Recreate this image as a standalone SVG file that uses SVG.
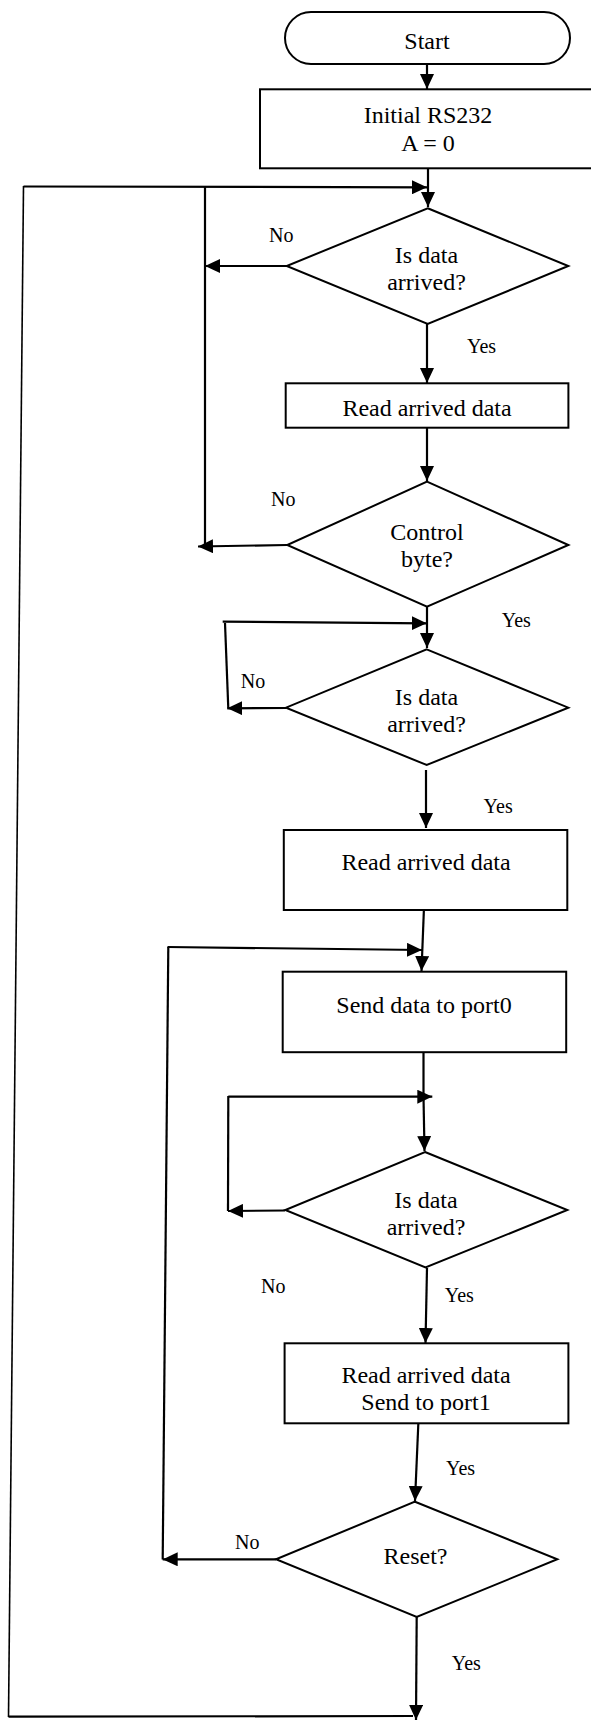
<svg xmlns="http://www.w3.org/2000/svg" width="591" height="1722" viewBox="0 0 591 1722">
<style>
.shape{fill:#fff;stroke:#000;stroke-width:2}
.t{font-family:"Liberation Serif","Times New Roman",serif;font-size:24px;fill:#000;text-anchor:middle}
.lbl{font-family:"Liberation Serif","Times New Roman",serif;font-size:20px;fill:#000}
.c{fill:none;stroke:#000;stroke-width:2.2}
.ca{fill:none;stroke:#000;stroke-width:2.2;marker-end:url(#ah)}
.thin{fill:none;stroke:#000;stroke-width:1.6}
</style>
<defs>
<marker id="ah" markerUnits="userSpaceOnUse" markerWidth="15" markerHeight="14" refX="15" refY="7" orient="auto">
<path d="M0,0 L15,7 L0,14 z" fill="#000"/>
</marker>
</defs>
<rect width="591" height="1722" fill="#fff"/>
<g id="connectors">
<line class="ca" x1="427" y1="64" x2="427" y2="89"/>
<line class="ca" x1="428" y1="168" x2="428" y2="207"/>
<line class="ca" x1="23.5" y1="186.5" x2="427" y2="187.3"/>
<line class="thin" x1="23.5" y1="186" x2="8.5" y2="1717"/>
<line class="c" x1="205" y1="186.5" x2="205" y2="545.5"/>
<line class="ca" x1="287" y1="266" x2="205" y2="266"/>
<line class="ca" x1="427" y1="324" x2="427" y2="383"/>
<line class="ca" x1="427" y1="428" x2="427" y2="481"/>
<line class="ca" x1="287" y1="545" x2="198" y2="546.5"/>
<line class="ca" x1="427" y1="607" x2="427" y2="648"/>
<line class="ca" x1="222.7" y1="621.7" x2="426.7" y2="623.3"/>
<line class="c" x1="225" y1="623" x2="228.3" y2="708.5"/>
<line class="ca" x1="286" y1="708" x2="227.3" y2="708.3"/>
<line class="ca" x1="426" y1="770" x2="426" y2="828"/>
<line class="ca" x1="424" y1="907" x2="421.5" y2="971"/>
<line class="ca" x1="167.5" y1="947" x2="422" y2="950"/>
<line class="c" x1="168.3" y1="947" x2="162.7" y2="1559.5"/>
<line class="c" x1="423.5" y1="1052" x2="423.5" y2="1096.7"/>
<line class="ca" x1="423.5" y1="1096.7" x2="424.5" y2="1151"/>
<line class="ca" x1="228.3" y1="1096.7" x2="432.3" y2="1096.7"/>
<line class="c" x1="228.3" y1="1096" x2="228" y2="1211"/>
<line class="ca" x1="285" y1="1210.5" x2="228" y2="1211"/>
<line class="ca" x1="427" y1="1268" x2="425.5" y2="1343"/>
<line class="ca" x1="418.4" y1="1422" x2="415" y2="1501"/>
<line class="ca" x1="276" y1="1559.3" x2="162.7" y2="1559.3"/>
<line class="c" x1="8.5" y1="1716.7" x2="413" y2="1716"/>
<line class="ca" x1="416.7" y1="1617" x2="416" y2="1720"/>
</g>
<g id="start">
<rect class="shape" x="285" y="12" width="285" height="52" rx="26" ry="26"/>
<text class="t" x="427" y="49">Start</text>
</g>
<g id="init">
<rect class="shape" x="260" y="89.3" width="334" height="79"/>
<text class="t" x="428" y="123">Initial RS232</text>
<text class="t" x="428" y="150.5">A = 0</text>
</g>
<g id="dec1">
<polygon class="shape" points="427.7,208.3 568.3,266 427.7,324 286.7,266"/>
<text class="t" x="426.5" y="263.3">Is data</text>
<text class="t" x="426.5" y="290">arrived?</text>
</g>
<g id="read1">
<rect class="shape" x="285.7" y="383.3" width="282.7" height="44.4"/>
<text class="t" x="427" y="416">Read arrived data</text>
</g>
<g id="dec2">
<polygon class="shape" points="427,481.7 568.4,545 427,606.7 287.2,545"/>
<text class="t" x="427" y="540">Control</text>
<text class="t" x="427" y="567.3">byte?</text>
</g>
<g id="dec3">
<polygon class="shape" points="426.7,649.3 568.3,707.7 426.7,765 286,707.7"/>
<text class="t" x="426.5" y="705">Is data</text>
<text class="t" x="426.5" y="731.5">arrived?</text>
</g>
<g id="read2">
<rect class="shape" x="283.8" y="830" width="283.5" height="80"/>
<text class="t" x="426" y="870">Read arrived data</text>
</g>
<g id="send0">
<rect class="shape" x="282.7" y="971.7" width="283.5" height="80.5"/>
<text class="t" x="424" y="1013">Send data to port0</text>
</g>
<g id="dec4">
<polygon class="shape" points="425,1152 567.3,1210 425.5,1267.5 285.3,1210"/>
<text class="t" x="426" y="1208.3">Is data</text>
<text class="t" x="426" y="1235">arrived?</text>
</g>
<g id="read3">
<rect class="shape" x="284.6" y="1343.3" width="283.8" height="80"/>
<text class="t" x="426" y="1383.3">Read arrived data</text>
<text class="t" x="426" y="1410">Send to port1</text>
</g>
<g id="reset">
<polygon class="shape" points="415,1501.7 557.3,1559.3 416.7,1617 276,1559.3"/>
<text class="t" x="415.5" y="1564">Reset?</text>
</g>
<g id="labels">
<text class="lbl" x="269" y="241.7">No</text>
<text class="lbl" x="467" y="353.3">Yes</text>
<text class="lbl" x="271" y="505.7">No</text>
<text class="lbl" x="501.7" y="626.7">Yes</text>
<text class="lbl" x="240.7" y="688.3">No</text>
<text class="lbl" x="483.6" y="813.3">Yes</text>
<text class="lbl" x="261" y="1293.3">No</text>
<text class="lbl" x="444.8" y="1301.7">Yes</text>
<text class="lbl" x="446" y="1475">Yes</text>
<text class="lbl" x="235" y="1549.3">No</text>
<text class="lbl" x="451.7" y="1670">Yes</text>
</g>
</svg>
